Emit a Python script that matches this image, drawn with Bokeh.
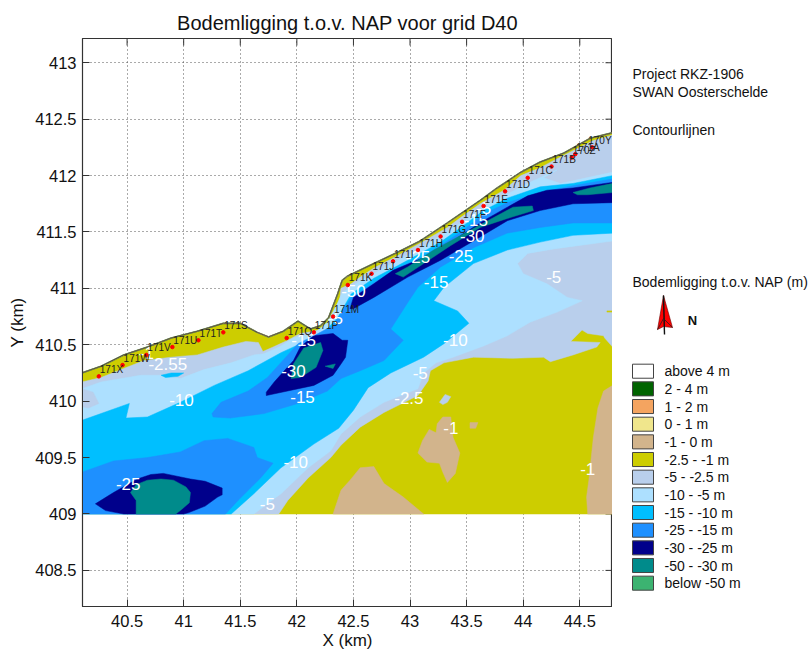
from bokeh.embed import file_html
from bokeh.resources import INLINE
from bokeh.layouts import row
from bokeh.models import FixedTicker, Range1d
from bokeh.plotting import figure
from bokeh.core.properties import value

FONT = "Liberation Sans"
TITLE = "Bodemligging t.o.v. NAP voor grid D40"
x_ticks = [40.5, 41, 41.5, 42, 42.5, 43, 43.5, 44, 44.5]
y_ticks = [408.5, 409, 409.5, 410, 410.5, 411, 411.5, 412, 412.5, 413]

# class colours
C_TAN = "#D2B48C"; C_YEL = "#CDCD00"; C_STEEL = "#B9CFEC"; C_LIGHT = "#ADE0FF"
C_CYAN = "#00BFFF"; C_BLUE = "#1E90FF"; C_NAVY = "#00008B"; C_TEAL = "#008B8B"

# coastline
coast_x = [40.10,40.27,40.47,40.68,40.89,41.12,41.35,41.50,41.65,41.75,41.88,42.01,42.12,42.21,42.28,42.36,42.40,42.45,42.68,42.89,43.09,43.33,43.62,43.77,43.98,44.15,44.36,44.59,44.79]
coast_y = [410.25,410.31,410.41,410.48,410.56,410.62,410.69,410.69,410.61,410.57,410.62,410.71,410.64,410.67,410.74,410.95,411.07,411.11,411.22,411.32,411.42,411.58,411.78,411.89,412.03,412.12,412.20,412.33,412.38]

# contour classes, from shallow to deep
yellow_x = coast_x + [44.79, 40.10]
yellow_y = coast_y + [409.00, 409.00]

steel_x = [40.10,40.27,40.47,40.65,40.89,41.12,41.35,41.55,41.66,41.70,41.79,41.92,42.03,42.15,42.23,42.30,42.38,42.39,42.48,42.56,42.68,42.89,43.09,43.33,43.45,43.62,43.83,43.98,44.15,44.30,44.44,44.62,44.79,44.79,44.72,44.71,44.57,44.52,44.42,44.68,44.65,44.44,44.24,44.18,43.91,43.56,43.30,43.18,43.16,43.07,42.77,42.56,42.39,42.30,42.10,41.92,41.84,40.10]
steel_y = [410.17,410.21,410.29,410.36,410.39,410.41,410.48,410.53,410.52,410.44,410.48,410.54,410.60,410.62,410.64,410.72,410.91,411.00,411.04,411.10,411.18,411.29,411.40,411.54,411.63,411.75,411.87,412.00,412.07,412.15,412.22,412.31,412.36,410.48,410.56,410.58,410.60,410.63,410.53,410.52,410.48,410.41,410.35,410.39,410.38,410.39,410.34,410.27,410.18,410.05,409.90,409.77,409.61,409.50,409.32,409.12,409.00,409.00]

light_x = [40.10,40.27,40.62,40.80,40.97,41.18,41.42,41.62,41.71,41.86,41.97,42.15,42.27,42.36,42.40,42.56,42.68,42.89,43.09,43.27,43.45,43.65,43.83,44.06,44.30,44.18,44.33,44.79,44.79,44.27,44.04,43.95,44.00,44.21,44.39,44.52,44.30,44.06,43.86,43.65,43.38,43.23,43.12,43.07,42.77,42.56,42.39,42.30,42.10,41.86,41.62,40.10]
light_y = [410.11,410.17,410.23,410.23,410.20,410.28,410.34,410.41,410.42,410.49,410.56,410.60,410.70,410.87,410.96,411.07,411.13,411.25,411.35,411.47,411.58,411.72,411.82,411.94,412.05,411.98,411.93,412.03,411.42,411.35,411.31,411.22,411.13,411.04,410.92,410.89,410.79,410.70,410.58,410.49,410.39,410.34,410.25,410.11,409.99,409.86,409.71,409.56,409.41,409.18,409.00,409.00]

steel_patch_x = [40.10,40.20,40.25,40.16,40.10]
steel_patch_y = [410.11,410.08,409.98,409.94,409.95]
steel_islet_x = [43.26,43.31,43.36,43.33,43.29]
steel_islet_y = [409.99,410.06,410.04,409.99,409.97]

cyan_x = [40.10,40.52,40.49,40.68,40.97,41.27,41.57,41.86,41.99,42.21,42.36,42.48,42.68,42.89,43.09,43.27,43.45,43.65,43.86,44.15,44.44,44.79,44.79,44.44,44.15,43.86,43.56,43.30,43.21,43.42,43.52,43.30,43.12,42.83,42.63,42.50,42.37,42.15,41.86,41.62,41.42,40.10]
cyan_y = [409.83,409.98,409.85,409.86,409.99,410.14,410.27,410.43,410.49,410.58,410.74,410.95,411.09,411.20,411.31,411.41,411.54,411.69,411.80,411.90,411.93,412.00,411.49,411.47,411.41,411.34,411.22,411.01,410.89,410.80,410.69,410.51,410.39,410.25,410.12,409.92,409.76,409.62,409.41,409.18,409.00,409.00]
cyan_blob_x = [40.80,40.89,41.00,40.95,40.84]
cyan_blob_y = [410.23,410.25,410.25,410.22,410.21]

blue_sw_x = [40.10,40.38,40.68,40.97,41.18,41.39,41.62,41.65,41.79,41.68,41.48,41.37,40.10]
blue_sw_y = [409.37,409.47,409.50,409.55,409.65,409.67,409.59,409.50,409.45,409.32,409.12,409.00,409.00]
blue_ch_x = [41.25,41.33,41.57,41.74,41.92,42.01,42.15,42.32,42.48,42.68,42.89,43.09,43.27,43.45,43.65,43.86,44.15,44.44,44.79,44.79,44.44,44.15,43.86,43.56,43.27,43.07,42.99,42.83,42.94,42.77,42.56,42.39,42.27,42.01,41.71,41.41,41.26]
blue_ch_y = [409.89,409.99,410.09,410.21,410.41,410.51,410.58,410.67,410.92,411.05,411.18,411.27,411.38,411.50,411.66,411.76,411.85,411.91,411.97,411.58,411.58,411.54,411.49,411.36,411.19,411.01,410.89,410.64,410.54,410.36,410.27,410.20,410.09,409.98,409.89,409.85,409.86]

navy_lobe_x = [41.73,41.80,41.97,42.03,42.15,42.32,42.40,42.45,42.43,42.39,42.32,42.15,41.73]
navy_lobe_y = [410.08,410.17,410.36,410.48,410.58,410.60,410.54,410.54,410.39,410.33,410.23,410.14,410.05]
navy_north_x = [42.47,42.50,42.68,42.85,43.09,43.27,43.45,43.65,43.86,44.04,44.21,44.44,44.79,44.79,44.44,44.15,43.86,43.56,43.27,42.98,42.68,42.50]
navy_north_y = [410.82,410.92,411.04,411.16,411.26,411.34,411.47,411.60,411.72,411.82,411.87,411.89,411.94,411.76,411.75,411.69,411.60,411.42,411.25,411.10,410.92,410.82]
navy_sw_x = [40.22,40.38,40.59,40.71,40.82,41.06,41.19,41.34,41.34,41.30,41.19,41.04,41.00,40.47,40.31]
navy_sw_y = [409.09,409.19,409.31,409.35,409.36,409.31,409.29,409.23,409.17,409.15,409.07,409.01,409.00,409.00,409.03]

teal_sw_x = [40.53,40.58,40.68,40.80,40.91,41.02,41.06,41.05,40.97,40.93,40.58,40.58]
teal_sw_y = [409.19,409.26,409.30,409.31,409.30,409.24,409.19,409.10,409.03,409.00,409.00,409.12]
teal_lobe_x = [41.95,41.97,42.06,42.21,42.23,42.17,42.03]
teal_lobe_y = [410.20,410.33,410.47,410.52,410.45,410.30,410.21]
teal_small_x = [42.25,42.34,42.32]
teal_small_y = [410.31,410.33,410.29]
teal_north_x = [42.87,42.98,43.21,43.65,43.91,44.08,44.09,43.86,43.62,43.36,43.12,42.94]
teal_north_y = [411.13,411.19,411.34,411.58,411.72,411.73,411.69,411.62,411.54,411.38,411.22,411.10]
teal_ne_x = [44.44,44.59,44.79,44.79,44.57,44.48]
teal_ne_y = [411.85,411.89,411.93,411.85,411.83,411.83]

tan_bottom_x = [42.32,42.39,42.47,42.56,42.68,42.77,42.94,43.12]
tan_bottom_y = [409.00,409.21,409.30,409.41,409.42,409.27,409.15,409.00]
tan_island_x = [43.29,43.36,43.38,43.44,43.40,43.33,43.29,43.26,43.15,43.07,43.11,43.17,43.23,43.24]
tan_island_y = [409.86,409.86,409.68,409.54,409.36,409.28,409.37,409.45,409.46,409.54,409.65,409.75,409.72,409.80]
tan_small_x = [43.53,43.60,43.58,43.53]
tan_small_y = [409.81,409.81,409.76,409.76]
tan_right_x = [44.79,44.71,44.66,44.62,44.58,44.56,44.57,44.79]
tan_right_y = [410.14,410.09,409.94,409.68,409.30,409.15,409.00,409.00]
yellow_bit_x = [44.74,44.79,44.79,44.74]
yellow_bit_y = [410.80,410.80,410.79,410.79]

# stations
station_names = ["171X","171W","171V","171U","171T","171S","171Q","171P","171M","171K","171J","171I","171H","171G","171F","171E","171D","171C","171B","170Z","171A","170Y"]
station_x = [40.25,40.46,40.67,40.90,41.13,41.35,41.91,42.15,42.32,42.45,42.66,42.85,43.07,43.27,43.46,43.65,43.84,44.04,44.25,44.43,44.46,44.61]
station_y = [410.22,410.32,410.41,410.48,410.54,410.61,410.56,410.61,410.75,411.03,411.13,411.24,411.34,411.46,411.59,411.73,411.86,411.98,412.08,412.16,412.19,412.25]

# contour labels
contour_labels = ["-2.55","-1","-10","-15","-30","-15","-25","-10","-5","-50","-5","-25","-15","-25","-30","-15","-5","-5","-10","-5","-2.5","-1","-1"]
contour_x = [40.86,40.67,40.98,42.05,41.97,42.06,40.51,41.99,41.74,42.50,42.34,43.07,43.23,43.45,43.55,43.58,43.65,44.27,43.40,43.09,42.99,43.36,44.57]
contour_y = [410.33,410.43,410.01,410.04,410.27,410.54,409.27,409.46,409.09,410.98,410.74,411.28,411.06,411.29,411.46,411.61,411.71,411.10,410.54,410.25,410.03,409.76,409.40]

# legend
legend_labels = ["above 4 m","2 - 4 m","1 - 2 m","0 - 1 m","-1 - 0 m","-2.5 - -1 m","-5 - -2.5 m","-10 - -5 m","-15 - -10 m","-25 - -15 m","-30 - -25 m","-50 - -30 m","below -50 m"]
legend_colors = ["#FFFFFF","#006400","#F4A460","#F0E68C",C_TAN,C_YEL,C_STEEL,C_LIGHT,C_CYAN,C_BLUE,C_NAVY,C_TEAL,"#3CB371"]
side_texts = ["Project RKZ-1906","SWAN Oosterschelde","Contourlijnen","Bodemligging t.o.v. NAP (m)"]

X0, X1, Y0, Y1 = 40.106, 44.789, 408.18, 413.215
p = figure(frame_width=530, frame_height=568, min_border_right=0,
           x_range=Range1d(X0, X1), y_range=Range1d(Y0, Y1),
           output_backend="svg", toolbar_location=None, tools="")
p.title.text = TITLE
p.title.align = "center"
p.title.offset = -3
p.title.text_font = FONT
p.title.text_font_size = "20px"
p.title.text_font_style = "normal"
p.title.text_color = "#111111"
p.outline_line_color = "#333333"
p.outline_line_width = 1.2

for ax, ticks, lab in ((p.xaxis[0], x_ticks, "X (km)"), (p.yaxis[0], y_ticks, "Y (km)")):
    ax.ticker = FixedTicker(ticks=ticks)
    ax.axis_label = lab
    ax.axis_label_text_font = FONT
    ax.axis_label_text_font_size = "17px"
    ax.axis_label_text_font_style = "normal"
    ax.axis_label_text_color = "#111111"
    ax.major_label_text_font = FONT
    ax.major_label_text_font_size = "16.5px"
    ax.major_label_text_color = "#111111"
    ax.major_tick_in = 7
    ax.major_tick_out = 0
    ax.minor_tick_in = 0
    ax.minor_tick_out = 0
    ax.axis_line_color = "#333333"
    ax.major_tick_line_color = "#333333"
p.xaxis[0].major_label_standoff = 8
p.yaxis[0].major_label_standoff = 6
p.xaxis[0].axis_label_standoff = 1
p.yaxis[0].axis_label_standoff = 5

# tick marks on the top and right frame edges
TL = 7 * (X1 - X0) / 530
TLY = 7 * (Y1 - Y0) / 568
p.segment(x_ticks, [Y1] * len(x_ticks), x_ticks, [Y1 - TLY] * len(x_ticks), line_color="#333333", line_width=1)
p.segment([X1] * len(y_ticks), y_ticks, [X1 - TL] * len(y_ticks), y_ticks, line_color="#333333", line_width=1)

p.xgrid.ticker = FixedTicker(ticks=x_ticks)
p.ygrid.ticker = FixedTicker(ticks=y_ticks)
for g in (p.xgrid[0], p.ygrid[0]):
    g.grid_line_color = "#555555"
    g.grid_line_dash = "1 3"
    g.grid_line_width = 1

layers = [
    (yellow_x, yellow_y, C_YEL), (steel_x, steel_y, C_STEEL), (light_x, light_y, C_LIGHT),
    (steel_patch_x, steel_patch_y, C_STEEL), (cyan_blob_x, cyan_blob_y, C_CYAN),
    (cyan_x, cyan_y, C_CYAN), (blue_sw_x, blue_sw_y, C_BLUE), (blue_ch_x, blue_ch_y, C_BLUE),
    (navy_lobe_x, navy_lobe_y, C_NAVY), (navy_north_x, navy_north_y, C_NAVY), (navy_sw_x, navy_sw_y, C_NAVY),
    (teal_sw_x, teal_sw_y, C_TEAL), (teal_lobe_x, teal_lobe_y, C_TEAL), (teal_small_x, teal_small_y, C_TEAL),
    (teal_north_x, teal_north_y, C_TEAL), (teal_ne_x, teal_ne_y, C_TEAL),
    (tan_bottom_x, tan_bottom_y, C_TAN), (tan_island_x, tan_island_y, C_TAN), (tan_small_x, tan_small_y, C_TAN),
    (tan_right_x, tan_right_y, C_TAN), (steel_islet_x, steel_islet_y, C_STEEL), (yellow_bit_x, yellow_bit_y, C_YEL),
]
for xs, ys, c in layers:
    p.patch(xs, ys, fill_color=c, line_color=c, line_width=0.5)

p.line(coast_x, coast_y, line_color="#2E7D32", line_width=1.6)
p.line(coast_x, coast_y, line_color=C_TAN, line_width=1.1)
p.line(coast_x, coast_y, line_color="#111111", line_width=0.6)

p.text(contour_x, contour_y, text=contour_labels, text_color="white", text_align="center",
       text_baseline="middle", text_font=value(FONT), text_font_size="17px")
p.scatter(station_x, station_y, size=3.5, marker="circle", fill_color="red", line_color="red")
p.text(station_x, station_y, text=station_names, text_color="#222222", text_align="left",
       text_baseline="middle", text_font=value(FONT), text_font_size="10px",
       x_offset=[1] * 21 + [-4], y_offset=-7)

# side panel: its frame runs from y=39 to y=591 on the page, and this range keeps y in page pixels
q = figure(width=196, x_range=Range1d(613, 809), y_range=Range1d(591, 39),
           height=634, min_border=0, min_border_top=26, min_border_bottom=40,
           output_backend="svg", toolbar_location=None, tools="")
q.axis.visible = False
q.grid.visible = False
q.outline_line_color = None

side_y = [74, 92, 130, 282]
q.text([633] * 4, side_y, text=side_texts, text_align="left", text_baseline="middle",
       text_font=value(FONT), text_font_size="14px", text_color="#111111")

q.patch([664, 658, 664, 673], [295, 329, 326, 327], fill_color="red", line_color="#660000", line_width=0.6)
q.line([664, 665], [295, 334], line_color="#111111", line_width=1.4)
q.line([658, 664, 673], [329, 318, 327], line_color="#222222", line_width=0.8)
q.text([693], [320], text=["N"], text_align="center", text_baseline="middle", text_font=value(FONT),
       text_font_style="bold", text_font_size="13px", text_color="#111111")

ly = [370.5 + i * 17.6 for i in range(len(legend_labels))]
q.rect([643.5] * len(ly), ly, width=21, height=14, fill_color=legend_colors, line_color="#444444", line_width=1)
q.text([665] * len(ly), ly, text=legend_labels, text_align="left", text_baseline="middle",
       text_font=value(FONT), text_font_size="14px", text_color="#111111")

layout = row(p, q, spacing=0, margin=(4, 0, 0, 5))
open("out.html", "w").write(file_html(layout, INLINE))
